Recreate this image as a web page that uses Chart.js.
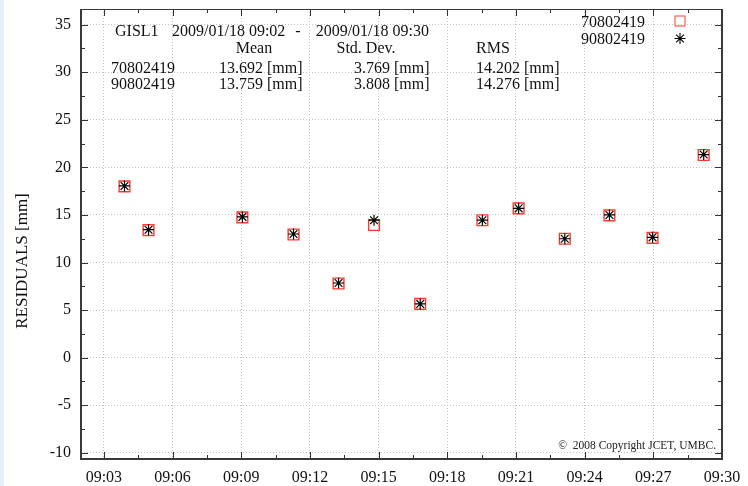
<!DOCTYPE html>
<html>
<head>
<meta charset="utf-8">
<script src="https://cdn.jsdelivr.net/npm/chart.js@4"></script>
<style>
  html, body { margin: 0; padding: 0; background: #fff; }
  body { width: 748px; height: 486px; overflow: hidden; }
  #wrap { position: relative; width: 748px; height: 486px; }
  #edge { position: absolute; left: 0; top: 0; width: 4px; height: 486px; background: #e6f0fa; }
  canvas { position: absolute; left: 0; top: 0; }
</style>
</head>
<body>
<div id="wrap">
  <canvas id="chart" width="748" height="486"></canvas>
  <div id="edge"></div>
</div>
<script>
// Observation epochs (UTC) for station GISL1, 2009/01/18
const obsTimes = ['09:03:54', '09:04:57', '09:09:03', '09:11:17', '09:13:15', '09:14:48', '09:16:49',
                  '09:19:32', '09:21:07', '09:23:08', '09:25:05', '09:26:58', '09:29:12'];
// Residuals [mm] per satellite/solution
const residuals70802419 = [18.0, 13.4, 14.75, 12.95, 7.8, 13.95, 5.65, 14.45, 15.7, 12.5, 14.95, 12.6, 21.3];
const residuals90802419 = [18.05, 13.45, 14.8, 13.0, 7.85, 14.45, 5.65, 14.45, 15.7, 12.5, 15.0, 12.65, 21.35];

// Axis ticks
const xMajorMinutes = [3, 6, 9, 12, 15, 18, 21, 24, 27, 30];   // minutes after 09:00
const yMajorValues = [-10, -5, 0, 5, 10, 15, 20, 25, 30, 35];

// Summary table
const seriesNames = ['70802419', '90802419'];
const statMean = ['13.692', '13.759'];
const statStdDev = ['3.769', '3.808'];
const statRms = ['14.202', '14.276'];
const stationName = 'GISL1';
const periodStart = '2009/01/18 09:02';
const periodEnd = '2009/01/18 09:30';
const yAxisTitle = 'RESIDUALS [mm]';

const FONT = "'Liberation Serif', 'DejaVu Serif', serif";
const RED = '#ff3b30';

function toMinutes(t) {
  const [h, m, s] = t.split(':').map(Number);
  return h * 60 + m + s / 60 - 540;
}
function withMinors(major) {
  const out = [];
  for (let i = 0; i < major.length; i++) {
    out.push(major[i]);
    if (i < major.length - 1) out.push((major[i] + major[i + 1]) / 2);
  }
  return out;
}
const xAllTicks = withMinors(xMajorMinutes);
const yAllTicks = withMinors(yMajorValues);
const isXMajor = v => xMajorMinutes.some(m => Math.abs(m - v) < 1e-6);
const isYMajor = v => yMajorValues.some(m => Math.abs(m - v) < 1e-6);
const pad2 = n => String(n).padStart(2, '0');

const pts708 = obsTimes.map((t, i) => ({ x: toMinutes(t), y: residuals70802419[i] }));
const pts908 = obsTimes.map((t, i) => ({ x: toMinutes(t), y: residuals90802419[i] }));

// keep the plot box exactly where the layout puts it (no label overhang padding)
function noPadding(s) {
  s.paddingTop = 0; s.paddingBottom = 0; s.paddingLeft = 0; s.paddingRight = 0;
}

// Frame, inward tick marks, axis title, header table, legend and credit line
const decorations = {
  id: 'decorations',
  afterDraw(chart) {
    const ctx = chart.ctx;
    const a = chart.chartArea;
    const xs = chart.scales.x, ys = chart.scales.y;
    ctx.save();

    // inward ticks on all four sides
    ctx.strokeStyle = '#333';
    ctx.lineWidth = 1;
    ctx.beginPath();
    xAllTicks.forEach(v => {
      const px = Math.round(xs.getPixelForValue(v)) + 0.5;
      const len = isXMajor(v) ? 7 : 4;
      ctx.moveTo(px, a.bottom); ctx.lineTo(px, a.bottom - len);
      ctx.moveTo(px, a.top); ctx.lineTo(px, a.top + len);
    });
    yAllTicks.forEach(v => {
      const py = Math.round(ys.getPixelForValue(v)) + 0.5;
      const len = isYMajor(v) ? 7 : 4;
      ctx.moveTo(a.left, py); ctx.lineTo(a.left + len, py);
      ctx.moveTo(a.right, py); ctx.lineTo(a.right - len, py);
    });
    ctx.stroke();

    // plot frame
    ctx.strokeStyle = '#3a3a3a';
    ctx.lineWidth = 1;
    ctx.beginPath();
    ctx.moveTo(a.left, a.top + 0.5); ctx.lineTo(a.right, a.top + 0.5);
    ctx.stroke();
    ctx.lineWidth = 2;
    ctx.beginPath();
    ctx.moveTo(a.left, a.top); ctx.lineTo(a.left, a.bottom);
    ctx.lineTo(a.right, a.bottom); ctx.lineTo(a.right, a.top);
    ctx.stroke();

    // y axis title
    ctx.fillStyle = '#111';
    ctx.font = '17px ' + FONT;
    ctx.save();
    ctx.translate(23, 261);
    ctx.rotate(-Math.PI / 2);
    ctx.textAlign = 'center';
    ctx.textBaseline = 'middle';
    ctx.fillText(yAxisTitle, 0, 0);
    ctx.restore();

    // header table
    ctx.font = '16px ' + FONT;
    ctx.textBaseline = 'alphabetic';
    ctx.textAlign = 'left';
    ctx.fillText(stationName, 115, 36);
    ctx.fillText(periodStart, 172, 36);
    ctx.textAlign = 'center';
    ctx.fillText('-', 298, 36);
    ctx.textAlign = 'right';
    ctx.fillText(periodEnd, 429, 36);
    ctx.textAlign = 'center';
    ctx.fillText('Mean', 254, 53);
    ctx.fillText('Std. Dev.', 366, 53);
    ctx.textAlign = 'left';
    ctx.fillText('RMS', 476, 53);
    const rowY = [73, 89];
    seriesNames.forEach((name, i) => {
      ctx.fillText(name, 111, rowY[i]);
      ctx.fillText(statMean[i] + ' [mm]', 219, rowY[i]);
      ctx.fillText(statStdDev[i] + ' [mm]', 354, rowY[i]);
      ctx.fillText(statRms[i] + ' [mm]', 476, rowY[i]);
    });

    // legend: name left, marker right
    const legY = [27, 44];
    ctx.fillText(seriesNames[0], 581, legY[0]);
    ctx.fillText(seriesNames[1], 581, legY[1]);
    ctx.strokeStyle = '#ff6a60';
    ctx.lineWidth = 1.3;
    ctx.strokeRect(675, 16, 10, 10);
    ctx.strokeStyle = '#000';
    ctx.lineWidth = 1.1;
    const sx = 680, sy = 38.5, r = 5.5;
    ctx.beginPath();
    for (let k = 0; k < 4; k++) {
      const ang = k * Math.PI / 4;
      ctx.moveTo(sx - Math.cos(ang) * r, sy - Math.sin(ang) * r);
      ctx.lineTo(sx + Math.cos(ang) * r, sy + Math.sin(ang) * r);
    }
    ctx.stroke();

    // credit line
    ctx.fillStyle = '#222';
    ctx.font = '11.5px ' + FONT;
    ctx.textAlign = 'right';
    ctx.fillText('\u00A9  2008 Copyright JCET, UMBC.', 716, 449);

    ctx.restore();
  }
};

new Chart(document.getElementById('chart'), {
  type: 'scatter',
  data: {
    datasets: [
      {
        label: seriesNames[0],
        data: pts708,
        pointStyle: 'rect',
        pointRadius: 7.6,
        pointBorderColor: RED,
        pointBackgroundColor: 'rgba(0,0,0,0)',
        pointBorderWidth: 1.4,
        order: 2
      },
      {
        label: seriesNames[1],
        data: pts908,
        pointStyle: 'star',
        pointRadius: 5.5,
        pointBorderColor: '#000',
        pointBackgroundColor: '#000',
        pointBorderWidth: 1.2,
        order: 1
      }
    ]
  },
  options: {
    responsive: false,
    animation: false,
    devicePixelRatio: 1,
    layout: { padding: { left: 0, right: 26, top: 5, bottom: 0 } },
    plugins: { legend: { display: false }, tooltip: { enabled: false } },
    scales: {
      x: {
        type: 'linear',
        min: 2,
        max: 30,
        afterBuildTicks: s => { s.ticks = xAllTicks.map(v => ({ value: v })); },
        afterFit: s => { s.height = 27; noPadding(s); },
        ticks: {
          autoSkip: false,
          maxRotation: 0,
          padding: 9,
          color: '#111',
          font: { family: FONT, size: 16 },
          callback: v => isXMajor(v) ? '09:' + pad2(v) : ''
        },
        grid: {
          drawTicks: false,
          lineWidth: 1,
          color: c => (c.tick && isXMajor(c.tick.value) && c.tick.value < 30) ? '#c4c4c4' : 'rgba(0,0,0,0)'
        },
        border: { display: false, dash: [1, 2] }
      },
      y: {
        min: -10.65,
        max: 36.65,
        afterBuildTicks: s => { s.ticks = yAllTicks.map(v => ({ value: v })); },
        afterFit: s => { s.width = 81; noPadding(s); },
        ticks: {
          autoSkip: false,
          padding: 10,
          color: '#111',
          font: { family: FONT, size: 16 },
          callback: v => isYMajor(v) ? String(v) : ''
        },
        grid: {
          drawTicks: false,
          lineWidth: 1,
          color: c => (c.tick && isYMajor(c.tick.value)) ? '#c4c4c4' : 'rgba(0,0,0,0)'
        },
        border: { display: false, dash: [1, 2] }
      }
    }
  },
  plugins: [decorations]
});
</script>
</body>
</html>
